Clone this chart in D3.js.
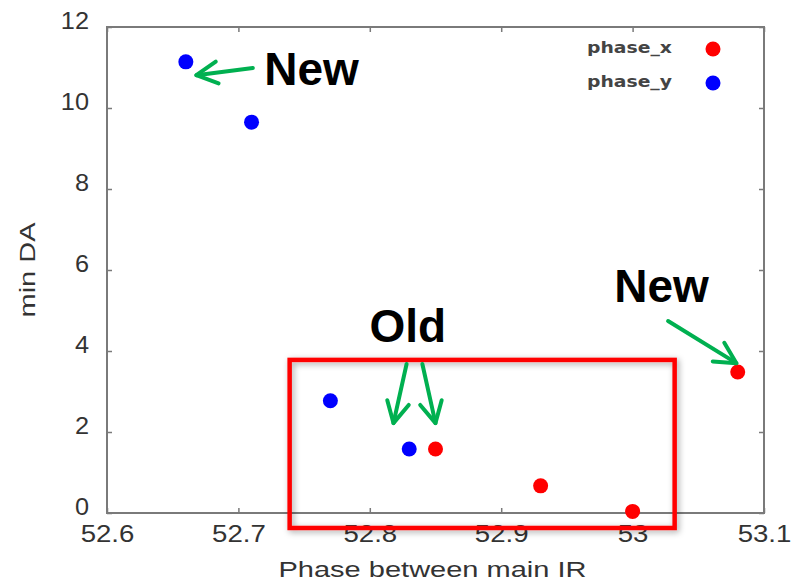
<!DOCTYPE html>
<html>
<head>
<meta charset="utf-8">
<script src="https://cdn.jsdelivr.net/npm/d3@7"></script>
<style>
  html, body { margin: 0; padding: 0; background: #fff; }
  svg { display: block; }
</style>
</head>
<body>
<svg id="chart" width="792" height="582"></svg>
<script>
// ---- data ----
const seriesNames = ["phase_x", "phase_y"];
const seriesColors = ["#ff0000", "#0000ff"];
const phaseX = [52.85, 52.93, 53.0, 53.08];
const minDAx = [1.58, 0.67, 0.04, 3.48];
const phaseY = [52.66, 52.71, 52.77, 52.83];
const minDAy = [11.14, 9.65, 2.77, 1.58];
const xTicks = [52.6, 52.7, 52.8, 52.9, 53.0, 53.1];
const yTicks = [0, 2, 4, 6, 8, 10, 12];
const xTickLabels = ["52.6", "52.7", "52.8", "52.9", "53", "53.1"];

// annotation texts and arrows (data units)
const noteTexts = [
  { text: "New", x: 52.7557, y: 10.57 },
  { text: "Old", x: 52.829, y: 4.22 },
  { text: "New", x: 53.022, y: 5.21 }
];
const noteArrows = [
  [52.711, 10.99, 52.668, 10.81],
  [52.828, 3.68, 52.818, 2.22],
  [52.840, 3.68, 52.850, 2.22],
  [53.027, 4.74, 53.079, 3.70]
];
const highlightBox = { x0: 52.739, x1: 53.032, y0: 3.78, y1: -0.37 };

// ---- layout ----
const svg = d3.select("#chart");
const plot = { left: 107, right: 764, top: 27, bottom: 513 };
const x = d3.scaleLinear().domain([52.6, 53.1]).range([plot.left, plot.right]);
const y = d3.scaleLinear().domain([0, 12]).range([plot.bottom, plot.top]);
const axisColor = "#7a7a7a";
const textColor = "#333";

// stretch a text element horizontally to a wider set of proportions
function widen(sel, factor) {
  sel.each(function () {
    const w = this.getComputedTextLength();
    d3.select(this).attr("textLength", w * factor).attr("lengthAdjust", "spacingAndGlyphs");
  });
}

// axes with inward ticks, mirrored top/right
const gx = svg.append("g").attr("transform", `translate(0,${plot.bottom})`)
  .call(d3.axisBottom(x).tickValues(xTicks).tickFormat((d, i) => xTickLabels[i])
    .tickSizeInner(-5).tickSizeOuter(0).tickPadding(13));
const gy = svg.append("g").attr("transform", `translate(${plot.left},0)`)
  .call(d3.axisLeft(y).tickValues(yTicks).tickFormat(d3.format("d"))
    .tickSizeInner(-5).tickSizeOuter(0).tickPadding(18));
const gxTop = svg.append("g").attr("transform", `translate(0,${plot.top})`)
  .call(d3.axisTop(x).tickValues(xTicks).tickFormat("").tickSizeInner(-5).tickSizeOuter(0));
const gyRight = svg.append("g").attr("transform", `translate(${plot.right},0)`)
  .call(d3.axisRight(y).tickValues(yTicks).tickFormat("").tickSizeInner(-5).tickSizeOuter(0));

[gx, gy, gxTop, gyRight].forEach(g => {
  g.select(".domain").remove();
  g.selectAll(".tick line").attr("stroke", axisColor).attr("stroke-width", 1.5);
  g.selectAll("text").attr("fill", textColor)
    .attr("font-family", "'Liberation Sans', Arial, sans-serif").attr("font-size", 23);
});
gy.selectAll("text").attr("dy", "0.06em");
widen(gx.selectAll("text"), 1.2);
widen(gy.selectAll("text"), 1.1);

// plot border
svg.append("rect")
  .attr("x", plot.left).attr("y", plot.top)
  .attr("width", plot.right - plot.left).attr("height", plot.bottom - plot.top)
  .attr("fill", "none").attr("stroke", axisColor).attr("stroke-width", 2);

// axis titles
const xTitle = svg.append("text")
  .attr("x", (plot.left + plot.right) / 2 - 3).attr("y", 577)
  .attr("text-anchor", "middle").attr("fill", textColor)
  .attr("font-family", "'Liberation Sans', Arial, sans-serif").attr("font-size", 22)
  .text("Phase between main IR");
xTitle.attr("textLength", 308).attr("lengthAdjust", "spacingAndGlyphs");

const yTitle = svg.append("text")
  .attr("transform", `translate(35,${(plot.top + plot.bottom) / 2}) rotate(-90)`)
  .attr("text-anchor", "middle").attr("fill", textColor)
  .attr("font-family", "'Liberation Sans', Arial, sans-serif").attr("font-size", 22)
  .text("min DA");
yTitle.attr("textLength", 95).attr("lengthAdjust", "spacingAndGlyphs");

// legend
const legend = svg.append("g");
seriesNames.forEach((name, i) => {
  const ly = 48 + i * 34;
  legend.append("text")
    .attr("x", 672).attr("y", ly).attr("dy", "0.3em")
    .attr("text-anchor", "end").attr("fill", "#444")
    .attr("font-family", "'DejaVu Sans', Verdana, sans-serif").attr("font-size", 15)
    .attr("font-weight", "bold")
    .attr("textLength", 85).attr("lengthAdjust", "spacingAndGlyphs")
    .text(name);
  legend.append("circle")
    .attr("cx", 713).attr("cy", ly + 1).attr("r", 7.5)
    .attr("fill", seriesColors[i]);
});

// data points
const pointsX = phaseX.map((v, i) => ({ x: v, y: minDAx[i] }));
const pointsY = phaseY.map((v, i) => ({ x: v, y: minDAy[i] }));
[pointsX, pointsY].forEach((pts, s) => {
  svg.append("g").selectAll("circle").data(pts).join("circle")
    .attr("cx", d => x(d.x)).attr("cy", d => y(d.y)).attr("r", 7.5)
    .attr("fill", seriesColors[s]);
});

// annotations
const defs = svg.append("defs");
defs.append("filter").attr("id", "boxShadow")
  .attr("x", "-5%").attr("y", "-10%").attr("width", "110%").attr("height", "120%")
  .append("feDropShadow").attr("dx", 2).attr("dy", 2).attr("stdDeviation", 3)
  .attr("flood-color", "#000").attr("flood-opacity", 0.35);
defs.append("marker").attr("id", "chevron")
  .attr("viewBox", "-26 -14 30 28").attr("refX", 0).attr("refY", 0)
  .attr("markerWidth", 30).attr("markerHeight", 28)
  .attr("markerUnits", "userSpaceOnUse").attr("orient", "auto")
  .append("path").attr("d", "M-21,-11 L0,0 L-21,11")
  .attr("fill", "none").attr("stroke", "#00b050").attr("stroke-width", 4)
  .attr("stroke-linecap", "round").attr("stroke-linejoin", "round");

svg.append("rect")
  .attr("x", x(highlightBox.x0)).attr("y", y(highlightBox.y0))
  .attr("width", x(highlightBox.x1) - x(highlightBox.x0))
  .attr("height", y(highlightBox.y1) - y(highlightBox.y0))
  .attr("fill", "none").attr("stroke", "#ff0000").attr("stroke-width", 4.5)
  .attr("filter", "url(#boxShadow)");

svg.append("g").selectAll("line").data(noteArrows).join("line")
  .attr("x1", d => x(d[0])).attr("y1", d => y(d[1]))
  .attr("x2", d => x(d[2])).attr("y2", d => y(d[3]))
  .attr("stroke", "#00b050").attr("stroke-width", 4).attr("stroke-linecap", "round")
  .attr("marker-end", "url(#chevron)");

svg.append("g").selectAll("text").data(noteTexts).join("text")
  .attr("x", d => x(d.x)).attr("y", d => y(d.y))
  .attr("text-anchor", "middle").attr("fill", "#000")
  .attr("font-family", "'Liberation Sans', Arial, sans-serif")
  .attr("font-weight", "bold").attr("font-size", 46)
  .text(d => d.text);
</script>
</body>
</html>
